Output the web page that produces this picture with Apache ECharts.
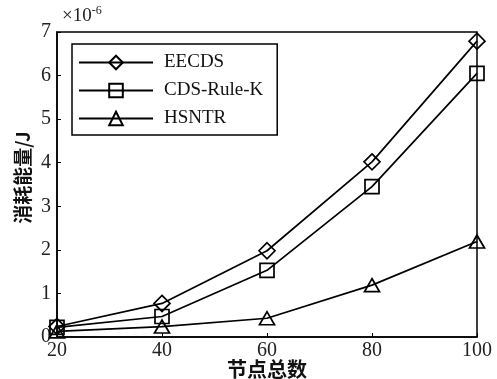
<!DOCTYPE html>
<html>
<head>
<meta charset="utf-8">
<script src="https://cdn.jsdelivr.net/npm/echarts@6/dist/echarts.min.js"></script>
<style>html,body{margin:0;padding:0;background:#fff;}#c{width:497px;height:379px;}</style>
</head>
<body>
<div id="c"></div>
<script>
const nodes = [20, 40, 60, 80, 100];
const eecds = [0.24, 0.77, 1.98, 4.02, 6.79];
const cdsRuleK = [0.22, 0.47, 1.53, 3.45, 6.05];
const hsntr = [0.13, 0.24, 0.43, 1.19, 2.19];
const seriesNames = ['EECDS', 'CDS-Rule-K', 'HSNTR'];
const symbols = ['diamond', 'rect', 'triangle'];
const symbolSizes = [[16, 16], [14, 14], [15, 13]];

const serif = '"Liberation Serif", "Times New Roman", serif';
const cjk = '"Noto Sans CJK SC", sans-serif';
const dataSets = [eecds, cdsRuleK, hsntr];

const chart = echarts.init(document.getElementById('c'));
chart.setOption({
  animation: false,
  backgroundColor: '#fff',
  grid: { left: 57, right: 20, top: 32, bottom: 42, outerBoundsMode: 'none', containLabel: false, show: true, borderColor: '#000', borderWidth: 1.5, backgroundColor: 'transparent' },
  legend: {
    left: 72, top: 44, orient: 'vertical',
    itemWidth: 74, itemHeight: 17, itemGap: 9,
    padding: [9, 14, 7, 6],
    borderColor: '#000', borderWidth: 1.5, backgroundColor: '#fff',
    textStyle: { fontFamily: serif, fontSize: 19, color: '#111', padding: [0, 0, 0, 6] },
    data: seriesNames
  },
  xAxis: {
    type: 'value', min: 20, max: 100, interval: 20,
    name: '节点总数', nameLocation: 'middle', nameGap: 22, nameMoveOverlap: false,
    nameTextStyle: { fontFamily: cjk, fontSize: 20, color: '#111', fontWeight: 'bold' },
    axisLine: { lineStyle: { color: '#000', width: 1.5 } },
    axisTick: { inside: true, length: 4, lineStyle: { color: '#000' } },
    axisLabel: { fontFamily: serif, fontSize: 20, color: '#222', margin: 4 },
    splitLine: { show: false }
  },
  yAxis: {
    type: 'value', min: 0, max: 7, interval: 1,
    name: '消耗能量/J', nameLocation: 'middle', nameGap: 25, nameMoveOverlap: false,
    nameTextStyle: { fontFamily: cjk, fontSize: 19, color: '#111', fontWeight: 'bold', padding: [0, 0, 0, 14] },
    axisLine: { lineStyle: { color: '#000', width: 1.5 } },
    axisTick: { inside: true, length: 4, lineStyle: { color: '#000' } },
    axisLabel: { fontFamily: serif, fontSize: 20, color: '#222', margin: 6 },
    splitLine: { show: false }
  },
  graphic: [{
    type: 'text', left: 62, top: 5,
    style: {
      text: '{a|×10}{b|-6}',
      rich: {
        a: { fontFamily: serif, fontSize: 19, fill: '#222' },
        b: { fontFamily: serif, fontSize: 12, fill: '#222', verticalAlign: 'top', padding: [0, 0, 10, 0] }
      }
    }
  }],
  series: seriesNames.map((n, i) => ({
    name: n, type: 'line',
    data: nodes.map((x, j) => [x, dataSets[i][j]]),
    symbol: symbols[i], symbolSize: symbolSizes[i], showAllSymbol: true,
    lineStyle: { color: '#000', width: 1.7 },
    itemStyle: { color: 'rgba(255,255,255,0)', borderColor: '#000', borderWidth: 1.7 },
    emphasis: { disabled: true }
  }))
});
</script>
</body>
</html>
